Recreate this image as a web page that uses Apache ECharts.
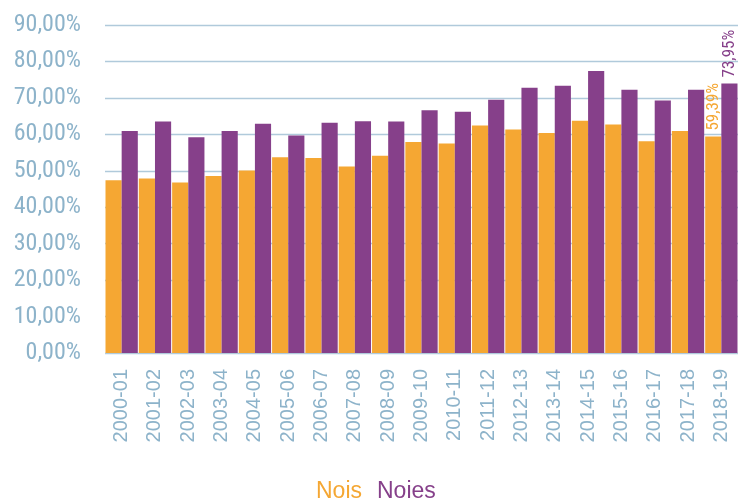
<!DOCTYPE html>
<html>
<head>
<meta charset="utf-8">
<script src="https://cdn.jsdelivr.net/npm/echarts@6/dist/echarts.min.js"></script>
<style>
  html, body { margin: 0; padding: 0; background: #fff; }
  #chart { width: 738px; height: 499px; }
</style>
</head>
<body>
<div id="chart"></div>
<script>
// School years on the category axis
const years = ['2000-01', '2001-02', '2002-03', '2003-04', '2004-05', '2005-06', '2006-07',
  '2007-08', '2008-09', '2009-10', '2010-11', '2011-12', '2012-13', '2013-14', '2014-15',
  '2015-16', '2016-17', '2017-18', '2018-19'];

// Percentage per year, boys and girls
const nois = [47.4, 47.9, 46.8, 48.6, 50.1, 53.7, 53.5, 51.2, 54.1, 57.9, 57.5, 62.4,
  61.3, 60.4, 63.7, 62.7, 58.1, 60.9, 59.39];
const noies = [60.9, 63.5, 59.2, 60.9, 62.9, 59.7, 63.2, 63.6, 63.5, 66.6, 66.2, 69.5,
  72.8, 73.3, 77.4, 72.2, 69.3, 72.2, 73.95];

const yTicks = { min: 0, max: 90, interval: 10 };

const ORANGE = '#f5a733';
const PURPLE = '#86408a';
const AXIS_TEXT = '#8db3ca';
const NARROW = "'Roboto Condensed', 'Liberation Sans', Arial, sans-serif";
const REGULAR = "'Liberation Sans', Arial, sans-serif";

const fmt = v => v.toFixed(2).replace('.', ',') + '%';

// Only the latest year carries a value label
function withLastLabel(values, color) {
  return values.map((v, i) => i === values.length - 1 ? {
    value: v,
    label: {
      show: true, position: 'top', rotate: 90, align: 'left', verticalAlign: 'middle',
      distance: 6, color: color, fontFamily: NARROW, fontSize: 17,
      formatter: p => fmt(p.value)
    }
  } : v);
}

const chart = echarts.init(document.getElementById('chart'), null, { renderer: 'canvas' });
chart.setOption({
  animation: false,
  grid: { left: 105, right: 0, top: 25, bottom: 146, containLabel: false },
  legend: {
    top: 475, left: 306, icon: 'rect', itemWidth: 0, itemHeight: 0, itemGap: 10,
    selectedMode: false,
    textStyle: { fontFamily: REGULAR, fontSize: 23, padding: 0 },
    data: [
      { name: 'Nois', textStyle: { color: ORANGE } },
      { name: 'Noies', textStyle: { color: PURPLE } }
    ]
  },
  xAxis: {
    type: 'category', data: years,
    axisLine: { show: false }, axisTick: { show: false },
    axisLabel: { rotate: 90, color: AXIS_TEXT, fontFamily: REGULAR, fontSize: 20, margin: 16, interval: 0 }
  },
  yAxis: {
    type: 'value', min: yTicks.min, max: yTicks.max, interval: yTicks.interval,
    axisLine: { show: false }, axisTick: { show: false },
    splitLine: { lineStyle: { color: '#b0cadb', width: 1.3 } },
    axisLabel: { color: AXIS_TEXT, fontFamily: NARROW, fontSize: 24, margin: 24, formatter: v => fmt(v) }
  },
  series: [
    { name: 'Nois', type: 'bar', data: withLastLabel(nois, ORANGE), barGap: '0%', barCategoryGap: '3%',
      itemStyle: { color: ORANGE } },
    { name: 'Noies', type: 'bar', data: withLastLabel(noies, PURPLE), barGap: '0%', barCategoryGap: '3%',
      itemStyle: { color: PURPLE } }
  ]
});
</script>
</body>
</html>
